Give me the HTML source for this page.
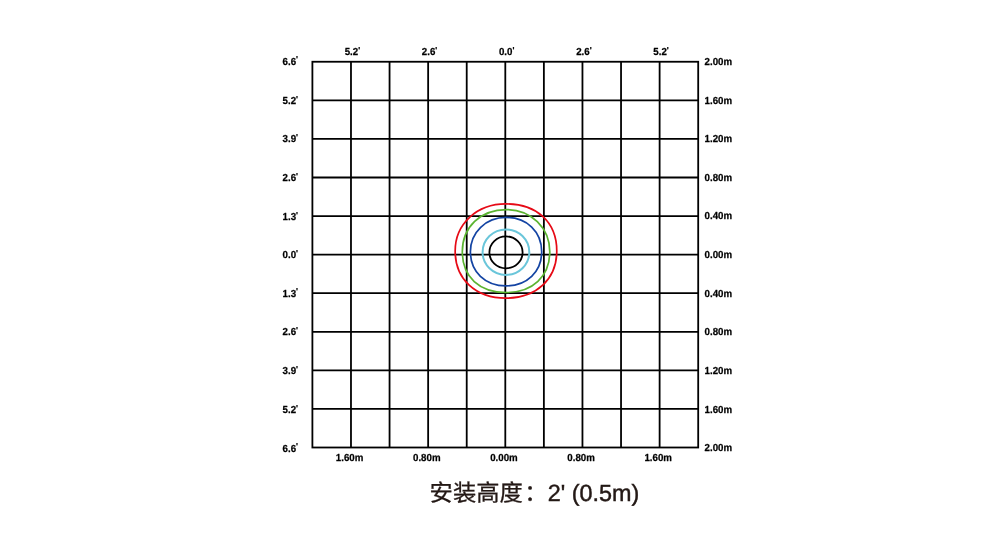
<!DOCTYPE html>
<html lang="zh"><head><meta charset="utf-8"><title>安装高度</title>
<style>html,body{margin:0;padding:0;background:#fff;}svg{display:block;}</style></head>
<body><svg width="1005" height="550" viewBox="0 0 1005 550">
<rect width="1005" height="550" fill="#fff"/>
<g stroke="#000" stroke-width="1.80" fill="none" stroke-linecap="butt">
<rect x="312.40" y="61.75" width="385.80" height="385.75"/>
<line x1="350.98" y1="61.75" x2="350.98" y2="447.50"/>
<line x1="389.56" y1="61.75" x2="389.56" y2="447.50"/>
<line x1="428.14" y1="61.75" x2="428.14" y2="447.50"/>
<line x1="466.72" y1="61.75" x2="466.72" y2="447.50"/>
<line x1="505.30" y1="61.75" x2="505.30" y2="447.50"/>
<line x1="543.88" y1="61.75" x2="543.88" y2="447.50"/>
<line x1="582.46" y1="61.75" x2="582.46" y2="447.50"/>
<line x1="621.04" y1="61.75" x2="621.04" y2="447.50"/>
<line x1="659.62" y1="61.75" x2="659.62" y2="447.50"/>
<line x1="312.40" y1="100.33" x2="698.20" y2="100.33"/>
<line x1="312.40" y1="138.90" x2="698.20" y2="138.90"/>
<line x1="312.40" y1="177.48" x2="698.20" y2="177.48"/>
<line x1="312.40" y1="216.05" x2="698.20" y2="216.05"/>
<line x1="312.40" y1="254.62" x2="698.20" y2="254.62"/>
<line x1="312.40" y1="293.20" x2="698.20" y2="293.20"/>
<line x1="312.40" y1="331.78" x2="698.20" y2="331.78"/>
<line x1="312.40" y1="370.35" x2="698.20" y2="370.35"/>
<line x1="312.40" y1="408.93" x2="698.20" y2="408.93"/>
</g>
<path d="M455.16 251.00 C455.16 223.86 476.68 203.89 505.92 203.89 C536.99 203.89 556.77 222.22 556.77 251.00 C556.77 279.22 536.33 298.19 505.92 298.19 C475.57 298.19 455.16 279.22 455.16 251.00 Z" fill="none" stroke="#e60a16" stroke-width="1.70"/>
<path d="M462.31 251.78 C462.31 226.95 480.51 209.55 506.47 209.55 C530.98 209.55 549.78 227.87 549.78 251.78 C549.78 276.34 532.58 292.51 506.47 292.51 C479.31 292.51 462.31 276.83 462.31 251.78 Z" fill="none" stroke="#5bb431" stroke-width="1.70"/>
<path d="M470.40 251.75 C470.40 232.34 485.89 217.40 506.00 217.40 C526.88 217.40 541.70 231.66 541.70 251.75 C541.70 271.73 526.88 285.90 506.00 285.90 C485.17 285.90 470.40 271.73 470.40 251.75 Z" fill="none" stroke="#1444a3" stroke-width="1.70"/>
<path d="M482.60 252.15 C482.60 239.59 493.05 229.40 505.95 229.40 C518.85 229.40 529.30 239.59 529.30 252.15 C529.30 264.71 518.85 274.90 505.95 274.90 C493.05 274.90 482.60 264.71 482.60 252.15 Z" fill="none" stroke="#6ac6da" stroke-width="2.00"/>
<path d="M489.40 252.35 C489.40 243.54 496.83 236.40 506.00 236.40 C515.17 236.40 522.60 243.54 522.60 252.35 C522.60 261.16 515.17 268.30 506.00 268.30 C496.83 268.30 489.40 261.16 489.40 252.35 Z" fill="none" stroke="#000" stroke-width="1.80"/>
<g font-family="'Liberation Sans', sans-serif" font-weight="bold" font-size="10.20" fill="#000" stroke="#000" stroke-width="0.25" stroke-linejoin="round" style="text-rendering:geometricPrecision">
<text transform="translate(282.6,64.65) scale(0.953,1)">6.6<tspan font-size="8.6" dy="-2.2">&#39;</tspan></text>
<text transform="translate(282.6,103.73) scale(0.953,1)">5.2<tspan font-size="8.6" dy="-2.2">&#39;</tspan></text>
<text transform="translate(282.6,142.30) scale(0.953,1)">3.9<tspan font-size="8.6" dy="-2.2">&#39;</tspan></text>
<text transform="translate(282.6,180.88) scale(0.953,1)">2.6<tspan font-size="8.6" dy="-2.2">&#39;</tspan></text>
<text transform="translate(282.6,219.75) scale(0.953,1)">1.3<tspan font-size="8.6" dy="-2.2">&#39;</tspan></text>
<text transform="translate(282.6,258.02) scale(0.953,1)">0.0<tspan font-size="8.6" dy="-2.2">&#39;</tspan></text>
<text transform="translate(282.6,296.60) scale(0.953,1)">1.3<tspan font-size="8.6" dy="-2.2">&#39;</tspan></text>
<text transform="translate(282.6,335.18) scale(0.953,1)">2.6<tspan font-size="8.6" dy="-2.2">&#39;</tspan></text>
<text transform="translate(282.6,373.75) scale(0.953,1)">3.9<tspan font-size="8.6" dy="-2.2">&#39;</tspan></text>
<text transform="translate(282.6,413.32) scale(0.953,1)">5.2<tspan font-size="8.6" dy="-2.2">&#39;</tspan></text>
<text transform="translate(282.6,451.50) scale(0.953,1)">6.6<tspan font-size="8.6" dy="-2.2">&#39;</tspan></text>
<text transform="translate(704.6,65.05) scale(0.953,1)">2.00m</text>
<text transform="translate(704.6,103.62) scale(0.953,1)">1.60m</text>
<text transform="translate(704.6,142.20) scale(0.953,1)">1.20m</text>
<text transform="translate(704.6,180.78) scale(0.953,1)">0.80m</text>
<text transform="translate(704.6,219.35) scale(0.953,1)">0.40m</text>
<text transform="translate(704.6,257.93) scale(0.953,1)">0.00m</text>
<text transform="translate(704.6,296.50) scale(0.953,1)">0.40m</text>
<text transform="translate(704.6,335.08) scale(0.953,1)">0.80m</text>
<text transform="translate(704.6,373.65) scale(0.953,1)">1.20m</text>
<text transform="translate(704.6,412.83) scale(0.953,1)">1.60m</text>
<text transform="translate(704.6,450.80) scale(0.953,1)">2.00m</text>
<text transform="translate(352.38,55.2) scale(0.953,1)" text-anchor="middle">5.2<tspan font-size="8.6" dy="-2.2">&#39;</tspan></text>
<text transform="translate(429.54,55.2) scale(0.953,1)" text-anchor="middle">2.6<tspan font-size="8.6" dy="-2.2">&#39;</tspan></text>
<text transform="translate(506.70,55.2) scale(0.953,1)" text-anchor="middle">0.0<tspan font-size="8.6" dy="-2.2">&#39;</tspan></text>
<text transform="translate(583.86,55.2) scale(0.953,1)" text-anchor="middle">2.6<tspan font-size="8.6" dy="-2.2">&#39;</tspan></text>
<text transform="translate(661.02,55.2) scale(0.953,1)" text-anchor="middle">5.2<tspan font-size="8.6" dy="-2.2">&#39;</tspan></text>
<text transform="translate(349.58,461.0) scale(0.953,1)" text-anchor="middle">1.60m</text>
<text transform="translate(426.74,461.0) scale(0.953,1)" text-anchor="middle">0.80m</text>
<text transform="translate(503.90,461.0) scale(0.953,1)" text-anchor="middle">0.00m</text>
<text transform="translate(581.06,461.0) scale(0.953,1)" text-anchor="middle">0.80m</text>
<text transform="translate(658.22,461.0) scale(0.953,1)" text-anchor="middle">1.60m</text>
</g>
<text y="500.5" font-family="'Liberation Sans', 'Noto Sans CJK SC', sans-serif" fill="#231815" style="text-rendering:geometricPrecision"><tspan x="429.6" font-size="23.3" stroke="#231815" stroke-width="0.3">安装高度<tspan dx="1.5">：</tspan></tspan><tspan x="547.8" font-size="23.4" stroke="#231815" stroke-width="0.45">2&#39; (0.5m)</tspan></text>
</svg></body></html>
